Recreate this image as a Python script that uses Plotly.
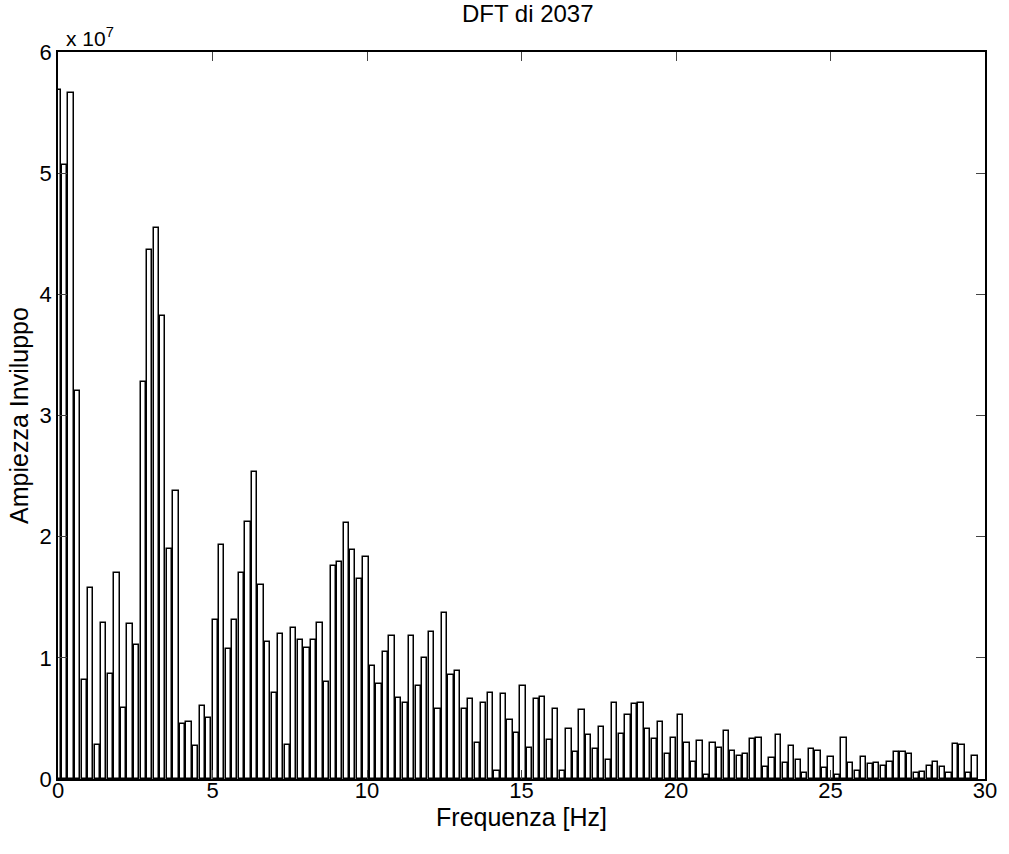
import plotly.graph_objects as go

# Frequency bin spacing [Hz] and envelope DFT magnitudes
df = 0.212
amplitude = [
    5.69e7, 5.07e7, 5.66e7, 3.20e7, 0.82e7, 1.58e7, 0.28e7, 1.29e7, 0.87e7, 1.70e7,
    0.59e7, 1.28e7, 1.11e7, 3.28e7, 4.37e7, 4.55e7, 3.82e7, 1.90e7, 2.38e7, 0.45e7,
    0.47e7, 0.27e7, 0.60e7, 0.50e7, 1.31e7, 1.93e7, 1.07e7, 1.31e7, 1.70e7, 2.12e7,
    2.53e7, 1.60e7, 1.13e7, 0.71e7, 1.20e7, 0.28e7, 1.25e7, 1.15e7, 1.08e7, 1.15e7,
    1.29e7, 0.80e7, 1.76e7, 1.79e7, 2.11e7, 1.89e7, 1.65e7, 1.83e7, 0.93e7, 0.78e7,
    1.05e7, 1.18e7, 0.67e7, 0.63e7, 1.18e7, 0.77e7, 1.00e7, 1.21e7, 0.58e7, 1.37e7,
    0.86e7, 0.89e7, 0.58e7, 0.66e7, 0.30e7, 0.63e7, 0.71e7, 0.07e7, 0.70e7, 0.49e7,
    0.38e7, 0.77e7, 0.26e7, 0.66e7, 0.68e7, 0.32e7, 0.58e7, 0.07e7, 0.41e7, 0.22e7,
    0.57e7, 0.36e7, 0.25e7, 0.43e7, 0.16e7, 0.63e7, 0.37e7, 0.53e7, 0.62e7, 0.63e7,
    0.41e7, 0.33e7, 0.47e7, 0.21e7, 0.34e7, 0.53e7, 0.30e7, 0.14e7, 0.31e7, 0.03e7,
    0.30e7, 0.26e7, 0.40e7, 0.23e7, 0.19e7, 0.21e7, 0.33e7, 0.34e7, 0.10e7, 0.17e7,
    0.36e7, 0.13e7, 0.27e7, 0.16e7, 0.05e7, 0.25e7, 0.23e7, 0.09e7, 0.18e7, 0.03e7,
    0.34e7, 0.13e7, 0.07e7, 0.18e7, 0.12e7, 0.13e7, 0.11e7, 0.14e7, 0.22e7, 0.22e7,
    0.21e7, 0.05e7, 0.06e7, 0.11e7, 0.14e7, 0.10e7, 0.05e7, 0.29e7, 0.28e7, 0.05e7,
    0.19e7,
]
freq = [k * df for k in range(len(amplitude))]

x_ticks = [0, 5, 10, 15, 20, 25, 30]
y_ticks = [0, 1e7, 2e7, 3e7, 4e7, 5e7, 6e7]
y_ticklabels = ["0", "1", "2", "3", "4", "5", "6"]

FONT = "Liberation Sans, Arial, Helvetica, sans-serif"

fig = go.Figure()
fig.add_trace(go.Bar(
    x=freq, y=amplitude, width=0.8 * df,
    marker=dict(color="white", line=dict(color="black", width=1.5)),
    showlegend=False,
))

fig.update_layout(
    width=1009, height=854,
    margin=dict(l=58, r=19, t=52, b=75),
    paper_bgcolor="white", plot_bgcolor="white",
    font=dict(family=FONT, size=22, color="black"),
    title=dict(text="DFT di 2037", x=0.523, xanchor="center", y=0.984, yanchor="middle",
               font=dict(family=FONT, size=24, color="black")),
    bargap=0,
)
fig.update_xaxes(
    range=[0, 30], tickvals=x_ticks, ticks="inside", ticklen=9, tickwidth=1.2,
    showline=True, linecolor="black", linewidth=1.5, mirror="ticks",
    showgrid=False, zeroline=False, ticklabelstandoff=-9,
    tickfont=dict(family=FONT, size=22),
    title=dict(text="Frequenza [Hz]", font=dict(family=FONT, size=25), standoff=0),
)
fig.update_yaxes(
    range=[0, 6e7], tickvals=y_ticks, ticktext=y_ticklabels, ticks="inside", ticklen=9,
    tickwidth=1.2, showline=True, linecolor="black", linewidth=1.5, mirror="ticks",
    showgrid=False, zeroline=False,
    tickfont=dict(family=FONT, size=22),
    title=dict(text="Ampiezza Inviluppo", font=dict(family=FONT, size=25), standoff=4),
)
fig.add_annotation(
    text="x 10<sup>7</sup>", xref="paper", yref="paper", x=0, y=1,
    xanchor="left", yanchor="bottom", xshift=6, yshift=0, showarrow=False,
    font=dict(family=FONT, size=21, color="black"),
)

fig.write_html("out.html")
